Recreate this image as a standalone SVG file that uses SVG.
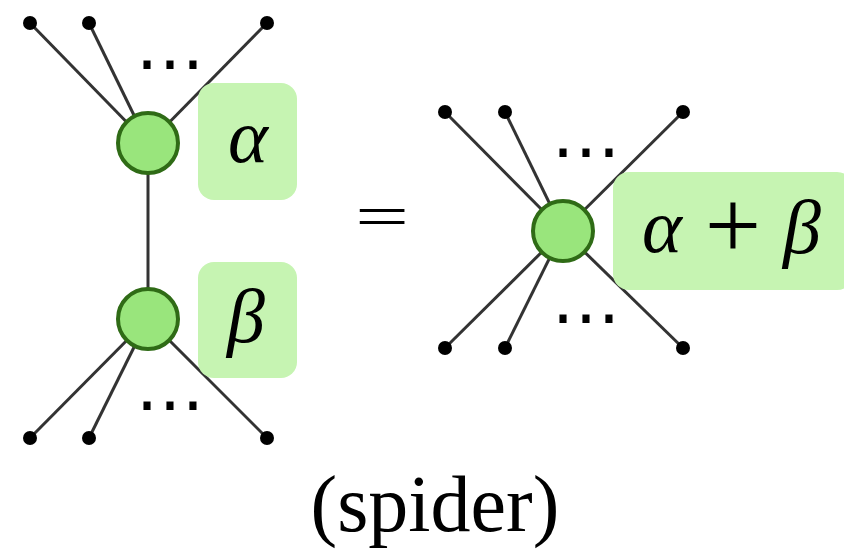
<svg xmlns="http://www.w3.org/2000/svg" width="844" height="553" viewBox="0 0 844 553">
<style>
.wire{stroke:#333;stroke-width:3;fill:none}
.leaf{fill:#000}
.spider{fill:#99e57c;stroke:#2f6b16;stroke-width:4}
.lbl{fill:#c6f4b2}
.math{font-family:"Liberation Serif","DejaVu Serif",serif;font-style:italic;fill:#000}
.rm{font-family:"Liberation Serif","DejaVu Serif",serif;fill:#000}
.dots{font-family:"DejaVu Sans",sans-serif;font-size:69px;fill:#000}
</style>
<rect width="844" height="553" fill="#fff"/>
<g id="connectors">
<line class="wire" x1="30" y1="23" x2="148" y2="144"/>
<line class="wire" x1="89" y1="23" x2="148" y2="144"/>
<line class="wire" x1="267" y1="23" x2="148" y2="144"/>
<line class="wire" x1="148" y1="144" x2="148" y2="319"/>
<line class="wire" x1="30" y1="438" x2="148" y2="319"/>
<line class="wire" x1="89" y1="438" x2="148" y2="319"/>
<line class="wire" x1="267" y1="438" x2="148" y2="319"/>
<line class="wire" x1="445" y1="112" x2="563" y2="231"/>
<line class="wire" x1="505" y1="112" x2="563" y2="231"/>
<line class="wire" x1="683" y1="112" x2="563" y2="231"/>
<line class="wire" x1="445" y1="348" x2="563" y2="231"/>
<line class="wire" x1="505" y1="348" x2="563" y2="231"/>
<line class="wire" x1="683" y1="348" x2="563" y2="231"/>
</g>
<g id="leaves">
<circle class="leaf" cx="30" cy="23" r="7"/>
<circle class="leaf" cx="89" cy="23" r="7"/>
<circle class="leaf" cx="267" cy="23" r="7"/>
<circle class="leaf" cx="30" cy="438" r="7"/>
<circle class="leaf" cx="89" cy="438" r="7"/>
<circle class="leaf" cx="267" cy="438" r="7"/>
<circle class="leaf" cx="445" cy="112" r="7"/>
<circle class="leaf" cx="505" cy="112" r="7"/>
<circle class="leaf" cx="683" cy="112" r="7"/>
<circle class="leaf" cx="445" cy="348" r="7"/>
<circle class="leaf" cx="505" cy="348" r="7"/>
<circle class="leaf" cx="683" cy="348" r="7"/>
</g>
<g id="dots">
<text class="dots" x="170" y="86" text-anchor="middle">⋯</text>
<text class="dots" x="170" y="427" text-anchor="middle">⋯</text>
<text class="dots" x="586" y="174" text-anchor="middle">⋯</text>
<text class="dots" x="586" y="340" text-anchor="middle">⋯</text>
</g>
<g id="node-alpha">
<rect class="lbl" x="198" y="83" width="99" height="117" rx="16"/>
<circle class="spider" cx="148" cy="143" r="30"/>
<text class="math" x="248" y="162" font-size="76" text-anchor="middle">α</text>
</g>
<g id="node-beta">
<rect class="lbl" x="198" y="262" width="99" height="116" rx="16"/>
<circle class="spider" cx="148" cy="319" r="30"/>
<text class="math" x="246" y="342" font-size="76" text-anchor="middle">β</text>
</g>
<g id="node-sum">
<rect class="lbl" x="613" y="172" width="240" height="118" rx="16"/>
<circle class="spider" cx="563" cy="231" r="30"/>
<text class="math" x="662" y="252" font-size="76" text-anchor="middle">α</text>
<text class="rm" x="733" y="259" font-size="100" text-anchor="middle">+</text>
<text class="math" x="802" y="253" font-size="76" text-anchor="middle">β</text>
</g>
<text class="rm" transform="translate(382,236) scale(1.6,1)" font-size="60" text-anchor="middle">=</text>
<text class="rm" x="435" y="531" font-size="80" text-anchor="middle">(spider)</text>
</svg>
